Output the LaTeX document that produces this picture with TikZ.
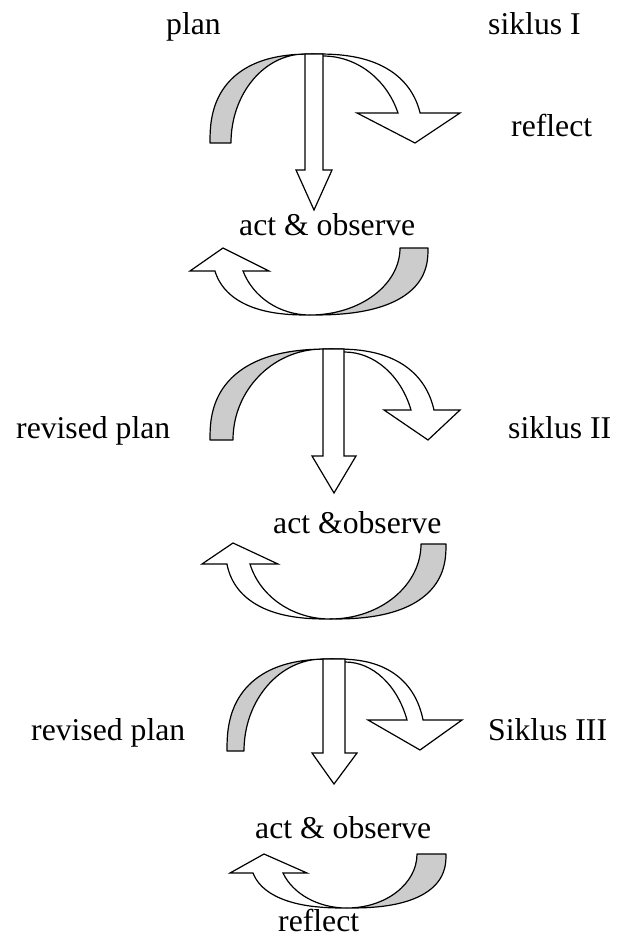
\documentclass[tikz,border=0pt]{standalone}
\usepackage{fontspec}
\setmainfont{Liberation Serif}
\definecolor{bandgray}{RGB}{204,204,204}
\pgfmathdeclarefunction{spc}{1}{\pgfmathparse{sign(cos(#1))*(abs(cos(#1))+0.00001)^0.8}}
\pgfmathdeclarefunction{sps}{1}{\pgfmathparse{sign(sin(#1))*(abs(sin(#1))+0.00001)^0.8}}
\tikzset{
  lbl/.style={anchor=base west, inner sep=0pt, font=\fontsize{31.7}{38}\selectfont},
  grayband/.style={draw=black, fill=bandgray, line width=1.2pt, line join=round},
  whiteband/.style={draw=black, fill=white, line width=1.2pt, line join=miter},
  sp/.style={samples=60, variable=\t},
}
\begin{document}
\begin{tikzpicture}[x=1pt,y=-1pt]
\useasboundingbox (0,0) rectangle (617,941);

% ---------- cycle I : top arrow ----------
\draw[whiteband] plot[sp, domain=270:345.1] ({315+108*spc(\t)},{143+89*sps(\t)})
  -- (460,113) -- (415,143) -- (357,113) -- (398,113)
  arc[start angle={360-asin(30/87)}, end angle=270, x radius=80, y radius=87] -- cycle;
\draw[grayband] plot[sp, domain=180:270] ({315+105*spc(\t)},{143+89*sps(\t)})
  -- (305,54) arc[start angle=270, end angle=180, x radius=74, y radius=89] -- cycle;
\draw[whiteband] (305,54) -- (323,54) -- (323,170) -- (332,170) -- (314,210) -- (296,170) -- (305,170) -- cycle;

% ---------- cycle I : bottom arrow ----------
\draw[whiteband] plot[sp, domain=90:164.76] ({310+97.8*spc(\t)},{248+67*sps(\t)})
  -- (190,271) -- (223,248) -- (269,271) -- (243,271)
  arc[start angle={180-asin(23/67)}, end angle=90, x radius=71, y radius=67] -- cycle;
\draw[grayband] plot[sp, domain=0:90] ({310+118*spc(\t)},{248+67*sps(\t)})
  arc[start angle=90, end angle=0, x radius=90, y radius=67] -- cycle;

% ---------- cycle II : top arrow ----------
\draw[whiteband] plot[sp, domain=270:345.53] ({333+103.6*spc(\t)},{440+91*sps(\t)})
  -- (460,410) -- (428,440) -- (384,410) -- (411,410)
  arc[start angle={360-asin(30/88)}, end angle=270, x radius=71, y radius=88] -- cycle;
\draw[grayband] plot[sp, domain=180:270] ({333+123*spc(\t)},{440+91*sps(\t)})
  -- (323,349) arc[start angle=270, end angle=180, x radius=90, y radius=91] -- cycle;
\draw[whiteband] (323,349) -- (344,349) -- (344,456) -- (356,456) -- (334,493) -- (312,456) -- (323,456) -- cycle;

% ---------- cycle II : bottom arrow ----------
\draw[whiteband] plot[sp, domain=90:168.95] ({330+104.6*spc(\t)},{544+75*sps(\t)})
  -- (202,564) -- (233,543) -- (278,564) -- (250,564)
  arc[start angle={180-asin(20/75)}, end angle=90, x radius=83, y radius=75] -- cycle;
\draw[grayband] plot[sp, domain=0:90] ({330+116*spc(\t)},{544+75*sps(\t)})
  arc[start angle=90, end angle=0, x radius=91, y radius=75] -- cycle;

% ---------- cycle III : top arrow ----------
\draw[whiteband] plot[sp, domain=270:345.13] ({334+91.5*spc(\t)},{751+92*sps(\t)})
  -- (462,720) -- (420,750) -- (368,720) -- (407,720)
  arc[start angle={360-asin(31/89)}, end angle=270, x radius=66, y radius=89] -- cycle;
\draw[grayband] plot[sp, domain=180:270] ({334+107*spc(\t)},{751+92*sps(\t)})
  -- (323,659) arc[start angle=270, end angle=180, x radius=79, y radius=92] -- cycle;
\draw[whiteband] (323,659) -- (345,659) -- (345,753) -- (357,753) -- (334,784) -- (312,753) -- (323,753) -- cycle;

% ---------- cycle III : bottom arrow ----------
\draw[whiteband] plot[sp, domain=90:164.28] ({347+96.9*spc(\t)},{854+54*sps(\t)})
  -- (230,873) -- (264,854) -- (307,873) -- (283,873)
  arc[start angle={180-asin(19/54)}, end angle=90, x radius=68, y radius=54] -- cycle;
\draw[grayband] plot[sp, domain=0:90] ({347+99*spc(\t)},{854+54*sps(\t)})
  arc[start angle=90, end angle=0, x radius=70, y radius=54] -- cycle;

% ---------- labels ----------
\node[lbl] (plan1)    at (166,35)  {plan};
\node[lbl] (siklus1)  at (488,35)  {siklus I};
\node[lbl] (reflect1) at (511,137) {reflect};
\node[lbl] (act1)     at (239,235) {act \& observe};
\node[lbl] (plan2)    at (16,438)  {revised plan};
\node[lbl] (siklus2)  at (508,438) {siklus II};
\node[lbl] (act2)     at (273,533) {act \&observe};
\node[lbl] (plan3)    at (31,740)  {revised plan};
\node[lbl] (siklus3)  at (488,740) {Siklus III};
\node[lbl] (act3)     at (255,838) {act \& observe};
\node[lbl] (reflect3) at (278,931) {reflect};
\end{tikzpicture}
\end{document}
